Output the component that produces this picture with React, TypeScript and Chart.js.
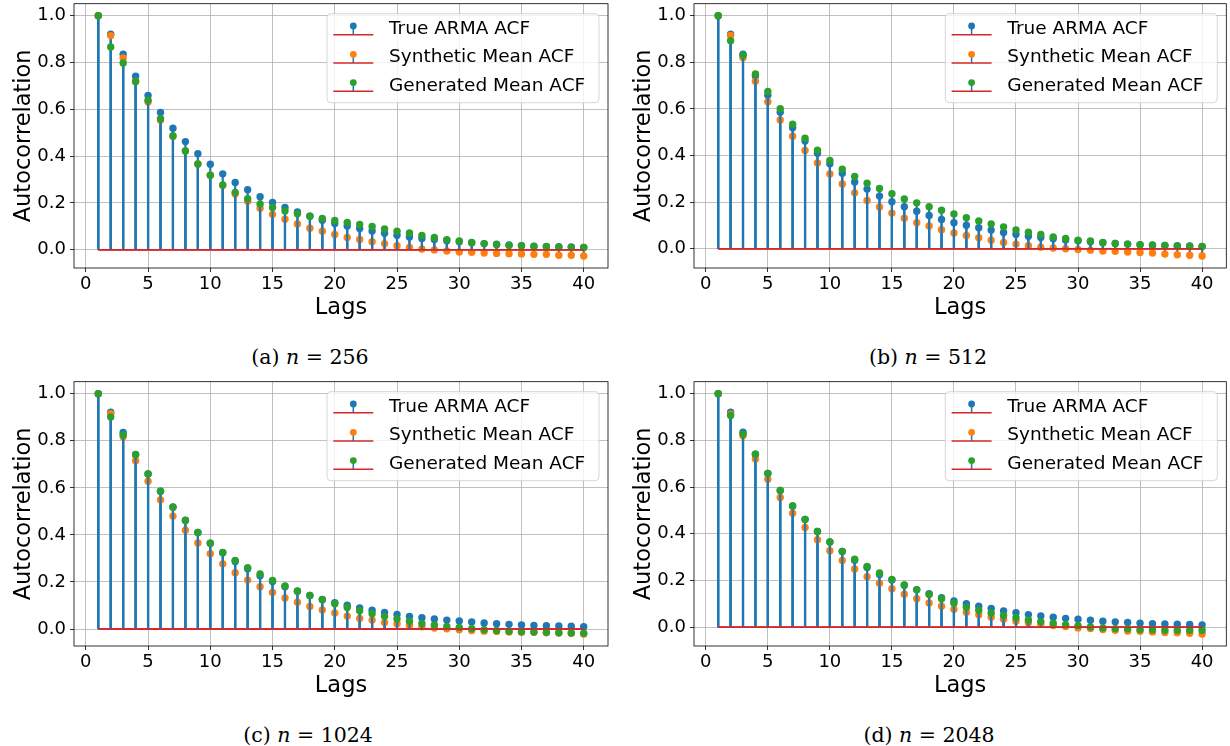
import React, { useEffect, useRef } from "react";
import { Chart, registerables } from "chart.js";

Chart.register(...registerables);

// ---------------- data ----------------
const LAGS = [1, 2, 3, 4, 5, 6, 7, 8, 9, 10, 11, 12, 13, 14, 15, 16, 17, 18, 19, 20,
  21, 22, 23, 24, 25, 26, 27, 28, 29, 30, 31, 32, 33, 34, 35, 36, 37, 38, 39, 40];

const TRUE_ACF = [1.0, 0.921, 0.835, 0.741, 0.659, 0.586, 0.519, 0.462, 0.410, 0.365,
  0.324, 0.287, 0.256, 0.226, 0.202, 0.180, 0.161, 0.143, 0.126, 0.112,
  0.101, 0.090, 0.080, 0.070, 0.062, 0.054, 0.048, 0.043, 0.038, 0.034,
  0.030, 0.026, 0.023, 0.020, 0.017, 0.015, 0.014, 0.013, 0.012, 0.010];

const SYN_256 = [1.0, 0.915, 0.819, 0.719, 0.631, 0.553, 0.484, 0.422, 0.366, 0.318,
  0.274, 0.238, 0.207, 0.177, 0.151, 0.130, 0.110, 0.092, 0.079, 0.065,
  0.052, 0.044, 0.034, 0.026, 0.017, 0.010, 0.003, -0.001, -0.006, -0.010,
  -0.011, -0.014, -0.016, -0.017, -0.018, -0.020, -0.020, -0.024, -0.024, -0.027];
const GEN_256 = [1.0, 0.866, 0.798, 0.719, 0.639, 0.560, 0.487, 0.422, 0.366, 0.318,
  0.277, 0.245, 0.218, 0.195, 0.180, 0.165, 0.154, 0.143, 0.133, 0.125,
  0.116, 0.108, 0.099, 0.089, 0.079, 0.071, 0.061, 0.052, 0.043, 0.037,
  0.031, 0.026, 0.021, 0.018, 0.017, 0.014, 0.013, 0.011, 0.010, 0.009];

const SYN_512 = [1.0, 0.915, 0.820, 0.719, 0.631, 0.553, 0.483, 0.422, 0.368, 0.321,
  0.278, 0.240, 0.207, 0.179, 0.153, 0.131, 0.112, 0.098, 0.082, 0.068,
  0.057, 0.047, 0.037, 0.027, 0.020, 0.013, 0.007, 0.003, 0.000, -0.003,
  -0.006, -0.010, -0.011, -0.014, -0.016, -0.018, -0.023, -0.026, -0.028, -0.031];
const GEN_512 = [1.0, 0.893, 0.830, 0.750, 0.675, 0.601, 0.534, 0.474, 0.423, 0.379,
  0.341, 0.310, 0.281, 0.259, 0.236, 0.214, 0.197, 0.180, 0.165, 0.149,
  0.133, 0.119, 0.106, 0.094, 0.081, 0.071, 0.061, 0.051, 0.044, 0.037,
  0.033, 0.027, 0.023, 0.020, 0.017, 0.016, 0.014, 0.011, 0.011, 0.010];

const SYN_1024 = [1.0, 0.915, 0.817, 0.715, 0.628, 0.549, 0.480, 0.420, 0.366, 0.320,
  0.277, 0.239, 0.208, 0.180, 0.155, 0.132, 0.114, 0.096, 0.081, 0.068,
  0.055, 0.045, 0.038, 0.028, 0.023, 0.016, 0.010, 0.004, 0.001, -0.003,
  -0.006, -0.009, -0.010, -0.013, -0.014, -0.014, -0.016, -0.017, -0.018, -0.021];
const GEN_1024 = [1.0, 0.901, 0.825, 0.742, 0.659, 0.586, 0.518, 0.461, 0.410, 0.365,
  0.325, 0.292, 0.261, 0.234, 0.207, 0.183, 0.162, 0.143, 0.125, 0.108,
  0.092, 0.078, 0.065, 0.054, 0.043, 0.033, 0.024, 0.017, 0.011, 0.007,
  0.001, -0.003, -0.006, -0.009, -0.011, -0.013, -0.014, -0.016, -0.017, -0.018];

const SYN_2048 = [1.0, 0.912, 0.820, 0.720, 0.634, 0.556, 0.488, 0.427, 0.375, 0.328,
  0.286, 0.249, 0.216, 0.188, 0.165, 0.141, 0.122, 0.104, 0.090, 0.077,
  0.064, 0.053, 0.043, 0.034, 0.026, 0.019, 0.013, 0.007, 0.003, -0.003,
  -0.006, -0.010, -0.013, -0.016, -0.017, -0.020, -0.023, -0.024, -0.026, -0.029];
const GEN_2048 = [1.0, 0.907, 0.827, 0.741, 0.658, 0.586, 0.519, 0.461, 0.410, 0.365,
  0.325, 0.291, 0.260, 0.232, 0.205, 0.181, 0.160, 0.140, 0.122, 0.103,
  0.086, 0.073, 0.061, 0.050, 0.041, 0.031, 0.024, 0.017, 0.011, 0.007,
  0.001, -0.003, -0.006, -0.007, -0.010, -0.011, -0.013, -0.013, -0.013, -0.013];

const X_TICKS = [0, 5, 10, 15, 20, 25, 30, 35, 40];
const Y_TICKS = [0.0, 0.2, 0.4, 0.6, 0.8, 1.0];
const SERIES_LABELS = ["True ARMA ACF", "Synthetic Mean ACF", "Generated Mean ACF"];
const X_TITLE = "Lags";
const Y_TITLE = "Autocorrelation";

// ---------------- styles ----------------
const MARKER_COLORS = ["#1f77b4", "#ff7f0e", "#2ca02c"];
const STEM_COLOR = "#1f77b4";
const BASE_COLOR = "#d62728";
const SANS = "'DejaVu Sans', sans-serif";
const SERIF = "'DejaVu Serif', serif";

const CANVAS_H = 330;
const AREA_LEFT = 74;
const AREA_RIGHT = 608;
const AREA_TOP = 3;
const X_AXIS_H = 62;

const stemLegend = {
  id: "stemLegend",
  afterDraw(chart: any) {
    const { ctx, chartArea } = chart;
    ctx.save();
    // axes frame (spines)
    ctx.strokeStyle = "#000";
    ctx.lineWidth = 0.8;
    ctx.strokeRect(chartArea.left, chartArea.top, chartArea.right - chartArea.left, chartArea.bottom - chartArea.top);

    // legend box
    const bw = 272, bh = 89;
    const bx = chartArea.right - 9 - bw;
    const by = chartArea.top + 10;
    const r = 4;
    ctx.beginPath();
    ctx.moveTo(bx + r, by);
    ctx.lineTo(bx + bw - r, by);
    ctx.quadraticCurveTo(bx + bw, by, bx + bw, by + r);
    ctx.lineTo(bx + bw, by + bh - r);
    ctx.quadraticCurveTo(bx + bw, by + bh, bx + bw - r, by + bh);
    ctx.lineTo(bx + r, by + bh);
    ctx.quadraticCurveTo(bx, by + bh, bx, by + bh - r);
    ctx.lineTo(bx, by + r);
    ctx.quadraticCurveTo(bx, by, bx + r, by);
    ctx.closePath();
    ctx.fillStyle = "rgba(255,255,255,0.8)";
    ctx.fill();
    ctx.strokeStyle = "rgba(204,204,204,0.8)";
    ctx.lineWidth = 1;
    ctx.stroke();

    SERIES_LABELS.forEach((label, i) => {
      const cy = by + 15.6 + i * 28.3;
      const ly = cy + 5.4;
      const mx = bx + 26.3;
      const my = cy - 3.3;
      ctx.strokeStyle = STEM_COLOR;
      ctx.lineWidth = 1.5;
      ctx.beginPath();
      ctx.moveTo(mx, ly);
      ctx.lineTo(mx, my);
      ctx.stroke();
      ctx.strokeStyle = BASE_COLOR;
      ctx.beginPath();
      ctx.moveTo(bx + 6.3, ly);
      ctx.lineTo(bx + 46.3, ly);
      ctx.stroke();
      ctx.fillStyle = MARKER_COLORS[i];
      ctx.beginPath();
      ctx.arc(mx, my, 3.4, 0, Math.PI * 2);
      ctx.fill();
      ctx.fillStyle = "#000";
      ctx.font = `18.5px ${SANS}`;
      ctx.textAlign = "left";
      ctx.textBaseline = "middle";
      ctx.fillText(label, bx + 62, cy);
    });
    ctx.restore();
  },
};

function Panel(props: { syn: number[]; gen: number[]; left: number; top: number; width: number }) {
  const { syn, gen, left, top, width } = props;
  const ref = useRef<HTMLCanvasElement>(null);

  useEffect(() => {
    if (!ref.current) return;
    const series = [TRUE_ACF, syn, gen];
    const all = series.flat().concat([0]);
    const lo = Math.min(...all);
    const hi = Math.max(...all);
    const ym = (hi - lo) * 0.05;
    const xm = (LAGS[LAGS.length - 1] - LAGS[0]) * 0.05;

    const datasets: any[] = [];
    series.forEach((vals, i) => {
      datasets.push({
        type: "bar",
        data: LAGS.map((x, k) => ({ x, y: vals[k] })),
        backgroundColor: STEM_COLOR,
        borderWidth: 0,
        barThickness: 1.5,
        grouped: false,
        order: 20 - 3 * i,
      });
      datasets.push({
        type: "line",
        data: LAGS.map((x, k) => ({ x, y: vals[k] })),
        showLine: false,
        pointRadius: 3.7,
        pointHoverRadius: 3.7,
        pointBackgroundColor: MARKER_COLORS[i],
        pointBorderWidth: 0,
        order: 19 - 3 * i,
      });
      datasets.push({
        type: "line",
        data: LAGS.map((x) => ({ x, y: 0 })),
        borderColor: BASE_COLOR,
        borderWidth: 1.5,
        pointRadius: 0,
        order: 18 - 3 * i,
      });
    });

    const gridOpts = {
      color: "#b0b0b0",
      lineWidth: 0.8,
      tickColor: "#000",
      tickLength: 4,
      drawTicks: true,
      offset: false,
    };

    const chart = new Chart(ref.current, {
      type: "bar",
      data: { datasets },
      plugins: [stemLegend],
      options: {
        animation: false,
        responsive: false,
        maintainAspectRatio: false,
        events: [],
        layout: { padding: { left: 0, right: width - AREA_RIGHT, top: AREA_TOP, bottom: 0 } },
        plugins: { legend: { display: false }, tooltip: { enabled: false } },
        scales: {
          x: {
            type: "linear",
            min: LAGS[0] - xm,
            max: LAGS[LAGS.length - 1] + xm,
            offset: false,
            afterBuildTicks: (s: any) => {
              s.ticks = X_TICKS.map((v) => ({ value: v }));
            },
            afterFit: (s: any) => {
              s.height = X_AXIS_H;
              s.paddingLeft = 0;
              s.paddingRight = 0;
            },
            grid: gridOpts,
            border: { display: false },
            ticks: {
              font: { family: SANS, size: 18 },
              color: "#000",
              padding: 2,
              autoSkip: false,
              maxRotation: 0,
              callback: (v: any) => String(v),
            },
            title: {
              display: true,
              text: X_TITLE,
              font: { family: SANS, size: 22.5 },
              color: "#000",
              padding: { top: 0, bottom: 8.5 },
            },
          },
          y: {
            type: "linear",
            min: lo - ym,
            max: hi + ym,
            afterBuildTicks: (s: any) => {
              s.ticks = Y_TICKS.map((v) => ({ value: v }));
            },
            afterFit: (s: any) => {
              s.width = AREA_LEFT;
              s.paddingTop = 0;
              s.paddingBottom = 0;
            },
            grid: gridOpts,
            border: { display: false },
            ticks: {
              font: { family: SANS, size: 18 },
              color: "#000",
              padding: 4,
              callback: (v: any) => Number(v).toFixed(1),
            },
            title: {
              display: true,
              text: Y_TITLE,
              font: { family: SANS, size: 22.5 },
              color: "#000",
              padding: { top: 11, bottom: 0 },
            },
          },
        },
      } as any,
    });
    return () => chart.destroy();
  }, [syn, gen, width]);

  return (
    <canvas
      ref={ref}
      width={width}
      height={CANVAS_H}
      style={{ position: "absolute", left, top, width, height: CANVAS_H }}
    />
  );
}

function Caption(props: { tag: string; n: string; x: number; y: number }) {
  return (
    <div
      style={{
        position: "absolute",
        left: props.x,
        top: props.y,
        transform: "translate(-50%, -50%)",
        fontFamily: SERIF,
        fontSize: 20.5,
        color: "#000",
        whiteSpace: "nowrap",
        lineHeight: 1,
      }}
    >
      ({props.tag}) <i>n</i> = {props.n}
    </div>
  );
}

export default function App() {
  return (
    <div
      style={{
        position: "absolute",
        left: 0,
        top: 0,
        width: 1230,
        height: 746,
        overflow: "hidden",
        background: "#fff",
      }}
    >
      <Panel syn={SYN_256} gen={GEN_256} left={0} top={0} width={615} />
      <Panel syn={SYN_512} gen={GEN_512} left={620} top={0} width={610} />
      <Panel syn={SYN_1024} gen={GEN_1024} left={0} top={378} width={615} />
      <Panel syn={SYN_2048} gen={GEN_2048} left={620} top={378} width={610} />
      <Caption tag="a" n="256" x={310} y={357} />
      <Caption tag="b" n="512" x={928} y={357} />
      <Caption tag="c" n="1024" x={308} y={735} />
      <Caption tag="d" n="2048" x={929} y={735} />
    </div>
  );
}
